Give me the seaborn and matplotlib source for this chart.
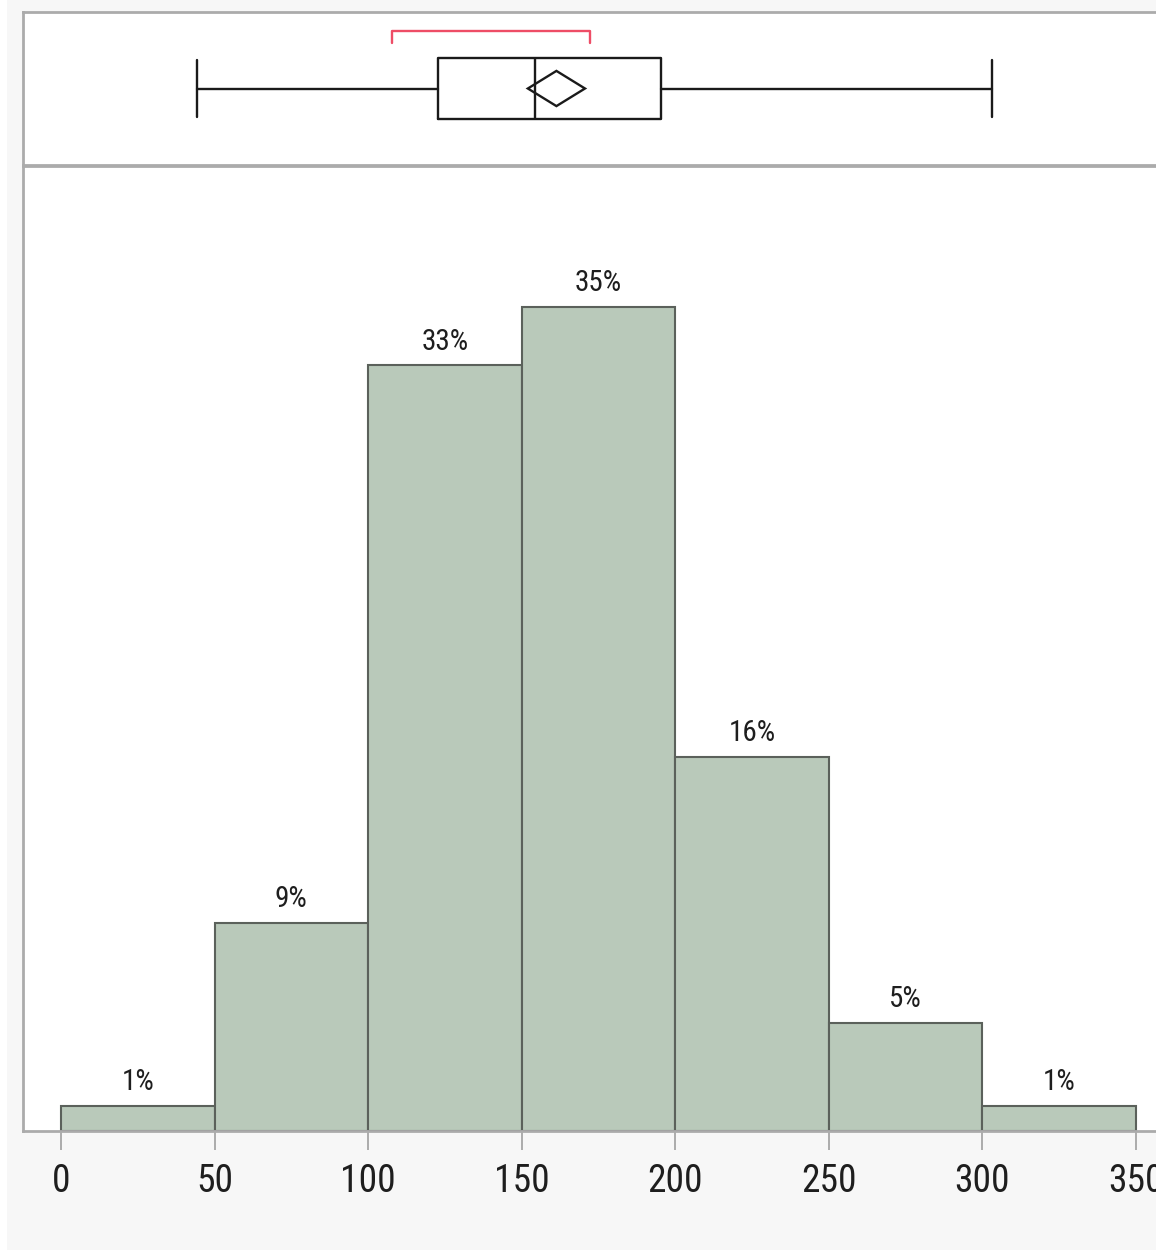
import numpy as np
import pandas as pd
import matplotlib
matplotlib.use("Agg")
import matplotlib.pyplot as plt
from matplotlib.patches import Polygon, Rectangle
from matplotlib import font_manager
import seaborn as sns

# Histogram: bin edges and counts per bin
bin_edges = [0, 50, 100, 150, 200, 250, 300, 350]
bin_counts = [3, 25, 92, 99, 45, 13, 3]
tick_values = [0, 50, 100, 150, 200, 250, 300, 350]

# Outlier box plot summary
whisker_low = 44.3
quartile_1 = 122.8
median = 154.3
quartile_3 = 195.4
whisker_high = 303.2
mean = 161.3
mean_ci_half = 9.3
shortest_half = [107.8, 172.3]

total = sum(bin_counts)
percents = [100.0 * c / total for c in bin_counts]
mids = [(a + b) / 2 for a, b in zip(bin_edges[:-1], bin_edges[1:])]
df = pd.DataFrame({"mid": mids, "pct": percents})

sns.set_theme(style="white")
names = {f.name for f in font_manager.fontManager.ttflist}
narrow = [n for n in ["Roboto Condensed", "Liberation Sans Narrow", "Open Sans Condensed"] if n in names]
plt.rcParams["font.family"] = narrow + ["DejaVu Sans"]
plt.rcParams["font.stretch"] = "condensed"

W, H = 1156, 1253
fig = plt.figure(figsize=(W / 100, H / 100), dpi=100, facecolor="white")
fig.patches.append(Rectangle((7 / W, 3 / H), 1, 1, transform=fig.transFigure,
                             facecolor="#f7f7f7", edgecolor="none", zorder=-10))

px = 1075 / 350.0          # pixels per data unit
x0 = 61                    # pixel of value 0
xl = (23 - x0) / px
xr = (1168 - x0) / px

frame = "#ababab"
ax_box = fig.add_axes([23 / W, (H - 165) / H, (1168 - 23) / W, 153 / H])
ax_hist = fig.add_axes([23 / W, (H - 1131) / H, (1168 - 23) / W, 965 / H])

for a in (ax_box, ax_hist):
    a.set_facecolor("white")
    a.set_xlim(xl, xr)
    for s in a.spines.values():
        s.set_color(frame)
        s.set_linewidth(2)
    a.spines["right"].set_visible(False)

# Histogram bars
sns.histplot(data=df, x="mid", weights="pct", bins=bin_edges, ax=ax_hist,
             color="#b9c9ba", edgecolor="#5b615b", linewidth=1.5, alpha=1)
ax_hist.set_ylim(0, 965 / 23.3)
ax_hist.set_xlabel("")
ax_hist.set_ylabel("")
ax_hist.set_yticks([])
ax_hist.set_xticks(tick_values)
ax_hist.set_xticklabels([str(v) for v in tick_values], fontsize=27, color="#1e1e1e")
ax_hist.tick_params(axis="x", length=14, width=1.4, color=frame, pad=9, bottom=True)

for m, p in zip(mids, percents):
    ax_hist.annotate(f"{p:.0f}%", (m, p), xytext=(0, 7), textcoords="offset points",
                     ha="center", va="bottom", fontsize=21, color="#1e1e1e")

# Box plot panel
stats = [{"whislo": whisker_low, "q1": quartile_1, "med": median,
          "q3": quartile_3, "whishi": whisker_high, "fliers": []}]
line = dict(color="#1a1a1a", linewidth=1.7)
ax_box.bxp(stats, positions=[0], widths=0.8, orientation="horizontal",
           showfliers=False, capwidths=0.75,
           boxprops=line, whiskerprops=line, capprops=line,
           medianprops=line)
ax_box.set_yticks([])
ax_box.set_xticks([])
ax_box.set_xlim(xl, xr)
ax_box.set_ylim(-1, 1)
dh = 0.23
ax_box.add_patch(Polygon([(mean - mean_ci_half, 0), (mean, dh),
                          (mean + mean_ci_half, 0), (mean, -dh)],
                         closed=True, fill=False, edgecolor="#1a1a1a", linewidth=1.7))
yb, yt = 0.75, 0.595
ax_box.plot([shortest_half[0], shortest_half[0], shortest_half[1], shortest_half[1]],
            [yt, yb, yb, yt], color="#ee4d66", linewidth=1.7)

fig.savefig("out.png", dpi=100, facecolor=fig.get_facecolor())
